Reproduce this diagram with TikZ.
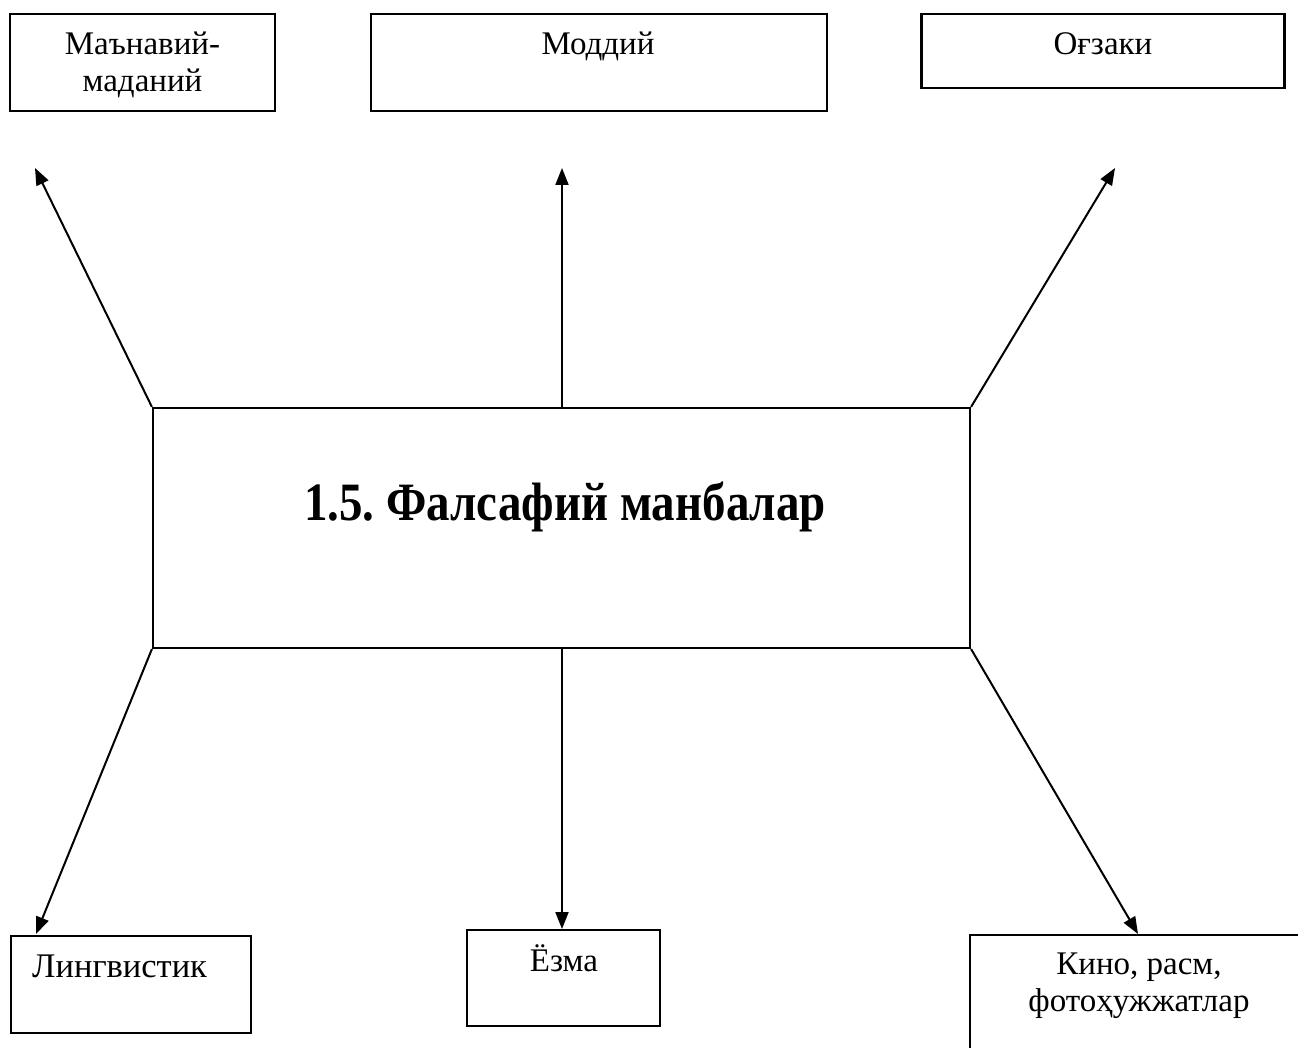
\documentclass[tikz,border=0pt]{standalone}
\usepackage{fontspec}
\setmainfont{Liberation Serif}
\usetikzlibrary{arrows.meta}
\frenchspacing
\begin{document}
\begin{tikzpicture}[x=1pt,y=-1pt,
  box/.style={draw, line width=2.2pt, rectangle, inner sep=0pt},
  lbl/.style={font=\fontsize{33}{37}\selectfont, align=center, inner sep=0pt, anchor=base},
  conn/.style={line width=2pt, -{Triangle[length=17pt,width=13pt]}}]
\clip (0,0) rectangle (1298,1048);
% top boxes
\node[box, minimum width=265pt, minimum height=97pt] (b1) at (142.5,62.5) {};
\node[box, minimum width=456pt, minimum height=97pt] (b2) at (599,62.5) {};
\node[box, minimum width=363pt, minimum height=74pt] (b3) at (1103,51) {};
\node[lbl] (t1) at (142.5,92) {Маънавий-\\маданий};
\node[lbl] (t2) at (598,55) {Моддий};
\node[lbl] (t3) at (1103,55) {Оғзаки};
% centre
\node[box, minimum width=817pt, minimum height=240pt] (c) at (561.5,528) {};
\node[inner sep=0pt, anchor=base, font=\fontsize{54}{60}\selectfont\bfseries] (ct) at (565,520) {\scalebox{0.87}[1]{1.5. Фалсафий манбалар}};
% bottom boxes
\node[box, minimum width=240pt, minimum height=97pt] (b4) at (131,984.5) {};
\node[box, minimum width=193pt, minimum height=96pt] (b5) at (563.5,978) {};
\node[box, minimum width=340pt, minimum height=140pt] (b6) at (1140,1005) {};
\node[lbl, anchor=base west, font=\fontsize{34.5}{37}\selectfont] (t4) at (32,977) {Лингвистик};
\node[lbl] (t5) at (564,971) {Ёзма};
\node[lbl] (t6) at (1139,1011) {Кино, расм,\\фотоҳужжатлар};
% tips
\coordinate (p1) at (35,168);
\coordinate (p2) at (562,168);
\coordinate (p3) at (1115,168);
\coordinate (p4) at (36,934);
\coordinate (p5) at (562,929);
\coordinate (p6) at (1138,934);
\draw[conn] (c.north west) -- (p1);
\draw[conn] (c.north -| p2) -- (p2);
\draw[conn] (c.north east) -- (p3);
\draw[conn] (c.south west) -- (p4);
\draw[conn] (c.south -| p5) -- (p5);
\draw[conn] (c.south east) -- (p6);
\end{tikzpicture}
\end{document}
